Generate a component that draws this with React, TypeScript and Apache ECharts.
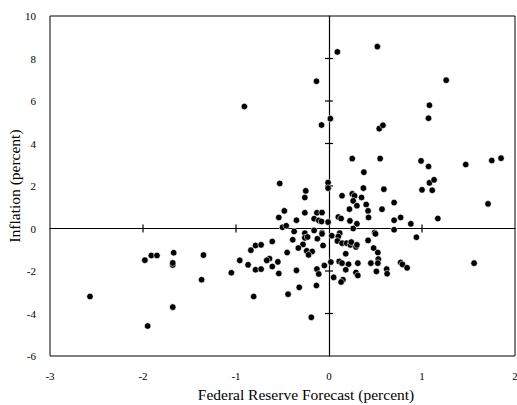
import React, { useEffect, useRef } from "react";
import * as echarts from "echarts";

const xTickValues = [-3, -2, -1, 0, 1, 2];
const yTickValues = [-6, -4, -2, 0, 2, 4, 6, 8, 10];

const fedForecast: number[] = [
  -2.57, -1.95, -1.98, -1.91, -1.85, -1.67, -1.68, -1.68, -1.68, -1.35,
  -1.37, -1.05, -0.96, -0.87, -0.84, -0.79, -0.79, -0.81, -0.91, 0.09,
  0.52, -0.135, 1.26, 1.08, 1.07, 0.015, -0.08, 0.54, 0.58, 0.25,
  0.55, 0.99, 1.07, 1.47, 1.75, 1.85, 0.375, -0.53, -0.01, -0.01,
  -0.25, -0.26, 1.08, 1.13, 1.0, 1.11, 0.37, 0.59, 1.71, 1.56,
  1.17, 0.94, 0.88, -0.19, -0.44, -0.32, -0.135, -0.48, -0.54, -0.35,
  -0.26, -0.13, -0.16, -0.11, -0.5, -0.46, -0.375, -0.26, -0.16, 0.14,
  0.25, 0.275, 0.35, 0.26, 0.7, 0.3, 0.4, 0.22, 0.42, 0.57,
  0.425, -0.075, -0.08, -0.01, 0.1, 0.13, 0.225, 0.3, 0.26, 0.7,
  0.49, 0.115, -0.075, 0.7, 0.77, -0.39, -0.26, -0.23, -0.28, -0.33,
  -0.24, -0.18, -0.22, -0.61, -0.73, -0.45, -0.64, -0.67, -0.55, -0.61,
  -0.73, -0.54, -0.35, -0.13, -0.11, -0.125, -0.075, -0.064, 0.03, 0.1,
  0.09, 0.14, 0.19, 0.23, 0.24, 0.29, 0.3, 0.18, 0.42, 0.5,
  0.48, 0.525, 0.53, 0.525, 0.45, 0.02, -0.05, 0.11, 0.14, 0.21,
  0.31, 0.18, 0.29, 0.31, 0.05, 0.15, 0.13, 0.51, 0.62, 0.625,
  0.77, 0.79, 0.84,
];

const inflation: number[] = [
  -3.2, -4.59, -1.49, -1.27, -1.27, -1.14, -1.72, -1.62, -3.7, -1.25,
  -2.41, -2.08, -1.5, -1.71, -1.02, -0.8, -1.94, -3.2, 5.74, 8.31,
  8.56, 6.93, 6.98, 5.8, 5.19, 5.17, 4.87, 4.7, 4.86, 3.29,
  3.29, 3.18, 2.92, 3.01, 3.2, 3.31, 2.65, 2.12, 2.16, 1.9,
  1.77, 1.46, 2.15, 2.29, 1.82, 1.8, 1.9, 1.85, 1.16, -1.63,
  0.47, -0.41, 0.22, -4.18, -3.09, -2.77, -2.68, 0.83, 0.52, 0.39,
  0.74, 0.74, 0.46, 0.38, 0.06, 0.13, -0.14, -0.22, -0.09, 1.54,
  1.63, 1.54, 1.46, 1.3, 1.22, 1.07, 1.13, 0.91, 0.83, 0.91,
  0.52, 0.75, 0.33, 0.3, 0.54, 0.47, 0.36, 0.22, 0.0, -0.06,
  -0.19, -0.22, -0.19, 0.39, 0.52, -0.53, -0.44, -0.4, -0.75, -0.92,
  -1.05, -1.08, -1.24, -0.61, -0.77, -1.13, -1.42, -1.5, -1.57, -1.79,
  -1.91, -2.12, -1.97, -1.91, -2.14, -0.48, -0.25, -0.8, -0.34, -0.38,
  -0.59, -0.69, -0.69, -0.77, -0.64, -0.87, -0.77, -1.19, -0.56, -0.25,
  -0.92, -1.13, -1.44, -1.63, -1.63, -1.58, -1.74, -1.55, -1.63, -1.68,
  -1.63, -1.94, -2.07, -2.21, -2.3, -2.41, -2.52, -2.02, -1.91, -2.13,
  -1.6, -1.69, -1.85,
];

const xTitle = "Federal Reserve Forecast (percent)";
const yTitle = "Inflation (percent)";

const FONT = "'Liberation Serif', 'DejaVu Serif', serif";

export default function App() {
  const ref = useRef<HTMLDivElement>(null);

  useEffect(() => {
    document.body.style.margin = "0";
    if (!ref.current) return;
    const chart = echarts.init(ref.current, undefined, { renderer: "svg" });
    const points = fedForecast.map((x, i) => [x, inflation[i]]);
    const xMin = xTickValues[0];
    const xMax = xTickValues[xTickValues.length - 1];
    const yMin = yTickValues[0];
    const yMax = yTickValues[yTickValues.length - 1];

    // tick marks on the crossing zero lines, drawn through the axis scales
    const xCrossTicks = xTickValues.filter((v) => v !== 0 && v !== xMin && v !== xMax).map((v) => [v, 0]);
    const yCrossTicks = yTickValues.filter((v) => v !== 0 && v !== yMin && v !== yMax).map((v) => [0, v]);

    chart.setOption({
      animation: false,
      backgroundColor: "#fff",
      grid: {
        left: 50,
        right: 2,
        top: 16,
        bottom: 49,
        show: true,
        borderColor: "#000",
        borderWidth: 1,
        backgroundColor: "transparent",
        outerBoundsMode: "none",
        containLabel: false,
      },
      xAxis: [
        {
          type: "value",
          min: xMin,
          max: xMax,
          interval: 1,
          position: "bottom",
          axisLine: { show: false, onZero: false },
          axisTick: { show: false },
          splitLine: { show: false },
          axisLabel: { color: "#000", fontFamily: FONT, fontSize: 11, margin: 14 },
          name: xTitle,
          nameLocation: "middle",
          nameGap: 30,
          nameMoveOverlap: false,
          nameTextStyle: { color: "#000", fontFamily: FONT, fontSize: 15.5, padding: [0, 0, 0, 47] },
        },
        {
          type: "value",
          min: xMin,
          max: xMax,
          interval: 1,
          position: "bottom",
          axisLine: { show: true, onZero: true, onZeroAxisIndex: 0, lineStyle: { color: "#000", width: 1.2 } },
          axisTick: { show: false },
          axisLabel: { show: false },
          splitLine: { show: false },
        },
      ],
      yAxis: [
        {
          type: "value",
          min: yMin,
          max: yMax,
          interval: 2,
          position: "left",
          axisLine: { show: false, onZero: false },
          axisTick: { show: false },
          splitLine: { show: false },
          axisLabel: { color: "#000", fontFamily: FONT, fontSize: 11, margin: 14 },
          name: yTitle,
          nameLocation: "middle",
          nameGap: 28,
          nameMoveOverlap: false,
          nameRotate: 90,
          nameTextStyle: { color: "#000", fontFamily: FONT, fontSize: 15.5 },
        },
        {
          type: "value",
          min: yMin,
          max: yMax,
          interval: 2,
          position: "left",
          axisLine: { show: true, onZero: true, onZeroAxisIndex: 0, lineStyle: { color: "#000", width: 1.2 } },
          axisTick: { show: false },
          axisLabel: { show: false },
          splitLine: { show: false },
        },
      ],
      series: [
        {
          type: "scatter",
          xAxisIndex: 0,
          yAxisIndex: 0,
          silent: true,
          data: xCrossTicks,
          symbol: "rect",
          symbolSize: [1.2, 8],
          itemStyle: { color: "#000", opacity: 1 },
          z: 1,
        },
        {
          type: "scatter",
          xAxisIndex: 0,
          yAxisIndex: 0,
          silent: true,
          data: yCrossTicks,
          symbol: "rect",
          symbolSize: [8, 1.2],
          itemStyle: { color: "#000", opacity: 1 },
          z: 1,
        },
        {
          type: "scatter",
          xAxisIndex: 0,
          yAxisIndex: 0,
          data: points,
          symbol: "circle",
          symbolSize: 6.5,
          itemStyle: { color: "#000", opacity: 1, borderColor: "#fff", borderWidth: 0.6 },
          z: 3,
        },
      ],
    });
    return () => chart.dispose();
  }, []);

  return <div ref={ref} style={{ width: 517, height: 405 }} />;
}
